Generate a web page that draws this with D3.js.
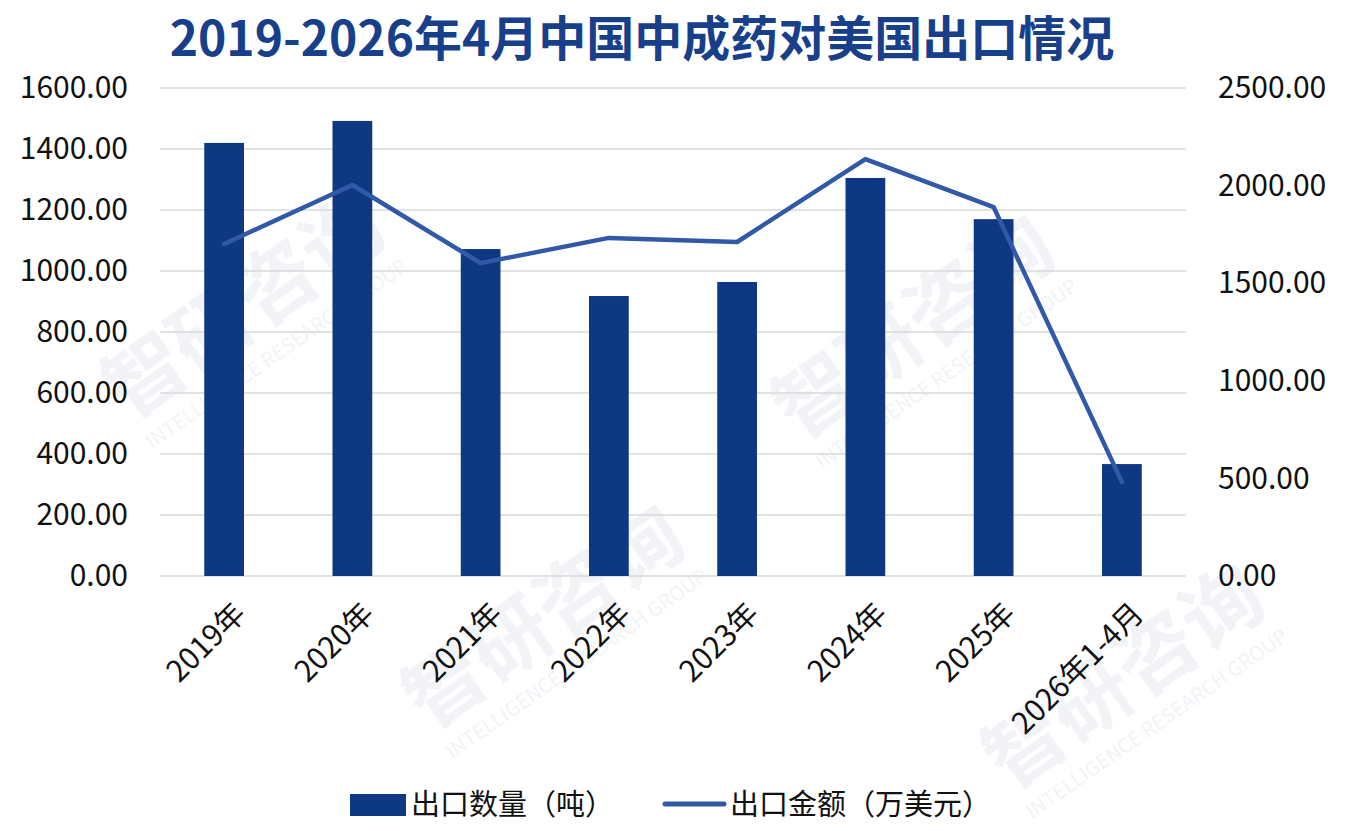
<!DOCTYPE html>
<html>
<head>
<meta charset="utf-8">
<script src="https://cdn.jsdelivr.net/npm/d3@7/dist/d3.min.js"></script>
<style>
  body { margin: 0; background: #fff; }
  text { font-family: "Noto Sans CJK SC", "Noto Sans", sans-serif; }
</style>
</head>
<body>
<div id="chart"></div>
<script>
var width = 1351,
    height = 831;

// data
var years = ["2019年", "2020年", "2021年", "2022年", "2023年", "2024年", "2025年", "2026年1-4月"];
var volume = [1420, 1492, 1072, 918, 964, 1305, 1170, 367];      // 出口数量（吨）
var amount = [1701, 2003, 1603, 1732, 1711, 2136, 1890, 482];    // 出口金额（万美元）
var leftTicks = [0, 200, 400, 600, 800, 1000, 1200, 1400, 1600];
var rightTicks = [0, 500, 1000, 1500, 2000, 2500];

var barColor = "#0f3883",
    lineColor = "#3059a8";

var svg = d3.select("#chart").append("svg")
    .attr("width", width)
    .attr("height", height);

// faint watermarks
var marks = [[260, 330], [560, 640], [930, 350], [1140, 700]];
marks.forEach(function(m) {
  var g = svg.append("g")
      .attr("transform", "translate(" + m[0] + "," + m[1] + ") rotate(-35)")
      .style("fill", "#f1f3f7");
  g.append("text")
      .attr("text-anchor", "middle")
      .style("font-size", "80px")
      .style("font-weight", "bold")
      .text("智研咨询");
  g.append("text")
      .attr("text-anchor", "middle")
      .attr("y", 36)
      .style("font-size", "20px")
      .text("INTELLIGENCE RESEARCH GROUP");
});

var x = d3.scaleBand()
    .domain(years)
    .range([160, 1186])
    .paddingInner(0.69)
    .paddingOuter(0.345);

var yLeft = d3.scaleLinear()
    .domain([0, 1600])
    .range([576, 88]);

var yRight = d3.scaleLinear()
    .domain([0, 2500])
    .range([576, 88]);

var fmt = d3.format(".2f");

// grid lines
svg.append("g")
    .selectAll("line")
    .data(leftTicks)
    .enter()
    .append("line")
    .attr("x1", 160)
    .attr("x2", 1186)
    .attr("y1", function(d) { return yLeft(d); })
    .attr("y2", function(d) { return yLeft(d); })
    .style("stroke", "#d9d9d9")
    .style("stroke-width", 1.5);

// left axis
var leftAxis = svg.append("g")
    .attr("transform", "translate(160,0)")
    .call(d3.axisLeft(yLeft).tickValues(leftTicks).tickFormat(fmt).tickSize(0).tickPadding(32));
leftAxis.select(".domain").remove();
leftAxis.selectAll("text")
    .style("font-size", "30px")
    .style("fill", "#111")
    .style("font-family", "'Noto Sans CJK SC', sans-serif");

// right axis
var rightAxis = svg.append("g")
    .attr("transform", "translate(1186,0)")
    .call(d3.axisRight(yRight).tickValues(rightTicks).tickFormat(fmt).tickSize(0).tickPadding(32));
rightAxis.select(".domain").remove();
rightAxis.selectAll("text")
    .style("font-size", "30px")
    .style("fill", "#111")
    .style("font-family", "'Noto Sans CJK SC', sans-serif");

// bottom axis labels
var bottomAxis = svg.append("g")
    .attr("transform", "translate(0,576)")
    .call(d3.axisBottom(x).tickSize(0).tickPadding(0));
bottomAxis.select(".domain").remove();
bottomAxis.selectAll("text")
    .attr("text-anchor", "end")
    .attr("dy", "0.35em")
    .attr("transform", "translate(16,32) rotate(-45)")
    .style("font-size", "30px")
    .style("fill", "#111")
    .style("font-family", "'Noto Sans CJK SC', sans-serif");

// bars
svg.append("g")
    .selectAll("rect")
    .data(volume)
    .enter()
    .append("rect")
    .attr("x", function(d, i) { return x(years[i]); })
    .attr("y", function(d) { return yLeft(d); })
    .attr("width", x.bandwidth())
    .attr("height", function(d) { return yLeft(0) - yLeft(d); })
    .style("fill", barColor);

// line
var line = d3.line()
    .x(function(d, i) { return x(years[i]) + x.bandwidth() / 2; })
    .y(function(d) { return yRight(d); });

svg.append("path")
    .datum(amount)
    .attr("d", line)
    .style("fill", "none")
    .style("stroke", lineColor)
    .style("stroke-width", 4.5)
    .style("stroke-linecap", "round")
    .style("stroke-linejoin", "round");

// title
svg.append("text")
    .attr("x", 642)
    .attr("y", 56)
    .attr("text-anchor", "middle")
    .style("font-size", "48px")
    .style("font-weight", "bold")
    .style("fill", "#173f8a")
    .text("2019-2026年4月中国中成药对美国出口情况");

// legend
var legend = svg.append("g");
legend.append("rect")
    .attr("x", 350)
    .attr("y", 794)
    .attr("width", 56)
    .attr("height", 22)
    .style("fill", barColor);
legend.append("text")
    .attr("x", 411)
    .attr("y", 805)
    .attr("dy", "0.35em")
    .style("font-size", "29px")
    .style("fill", "#111")
    .text("出口数量（吨）");
legend.append("line")
    .attr("x1", 665)
    .attr("x2", 724)
    .attr("y1", 804)
    .attr("y2", 804)
    .style("stroke", lineColor)
    .style("stroke-width", 5)
    .style("stroke-linecap", "round");
legend.append("text")
    .attr("x", 730)
    .attr("y", 805)
    .attr("dy", "0.35em")
    .style("font-size", "29px")
    .style("fill", "#111")
    .text("出口金额（万美元）");
</script>
</body>
</html>
